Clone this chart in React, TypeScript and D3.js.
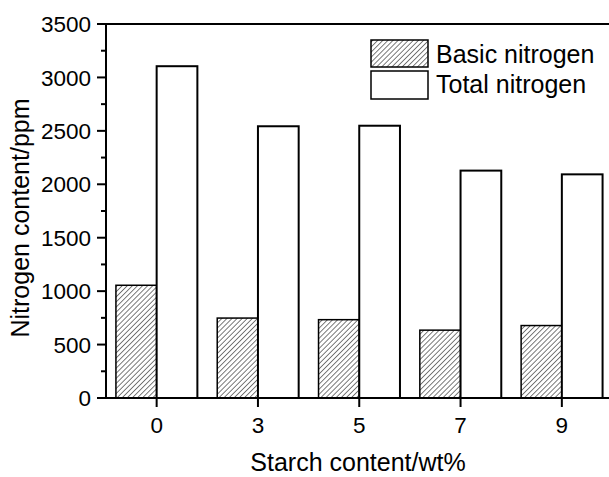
import React from "react";
import * as d3 from "d3";

const categories = ["0", "3", "5", "7", "9"];
const basicNitrogen = [1055, 748, 733, 635, 678];
const totalNitrogen = [3105, 2543, 2548, 2128, 2093];
const yTicks = [0, 500, 1000, 1500, 2000, 2500, 3000, 3500];
const yMinorTicks = [250, 750, 1250, 1750, 2250, 2750, 3250];
const seriesNames = ["Basic nitrogen", "Total nitrogen"];

const W = 609;
const H = 477;
const left = 106;
const top = 24;
const bottom = 398;
const right = 612.5;
const FONT = "'Liberation Sans', Arial, Helvetica, sans-serif";

export default function App() {
  const x = d3.scaleBand<string>().domain(categories).range([left, right]).paddingInner(0).paddingOuter(0);
  const y = d3.scaleLinear().domain([0, 3500]).range([bottom, top]);
  const step = x.step();
  const barW = step * 0.402;

  return (
    <svg
      width={W}
      height={H}
      viewBox={`0 0 ${W} ${H}`}
      style={{ position: "absolute", left: 0, top: 0, background: "#fff" }}
      fontFamily={FONT}
    >
      <defs>
        <pattern id="hatch" patternUnits="userSpaceOnUse" width="3.6" height="3.6" patternTransform="rotate(45)">
          <rect width="3.6" height="3.6" fill="#fff" />
          <line x1="0" y1="0" x2="0" y2="3.6" stroke="#222" strokeWidth="1.2" />
        </pattern>
      </defs>
      <rect x={0} y={0} width={W} height={H} fill="#fff" />

      {/* bars */}
      {categories.map((c, i) => {
        const cx = (x(c) as number) + step / 2;
        return (
          <g key={c}>
            <rect
              x={cx - barW}
              y={y(basicNitrogen[i])}
              width={barW}
              height={bottom - y(basicNitrogen[i])}
              fill="url(#hatch)"
              stroke="#000"
              strokeWidth={1.5}
            />
            <rect
              x={cx}
              y={y(totalNitrogen[i])}
              width={barW}
              height={bottom - y(totalNitrogen[i])}
              fill="#fff"
              stroke="#000"
              strokeWidth={2}
            />
          </g>
        );
      })}

      {/* frame */}
      <line x1={left} x2={W + 5} y1={top} y2={top} stroke="#000" strokeWidth={2} />
      <line x1={left} x2={left} y1={top - 1} y2={bottom + 1} stroke="#000" strokeWidth={2} />
      <line x1={left} x2={W + 5} y1={bottom} y2={bottom} stroke="#000" strokeWidth={2} />

      {/* y ticks */}
      {yTicks.map((t) => (
        <g key={t}>
          <line x1={left - 9} x2={left} y1={y(t)} y2={y(t)} stroke="#000" strokeWidth={2} />
          <text x={left - 15} y={y(t)} dy="0.36em" textAnchor="end" fontSize={22.5} fill="#000">
            {t}
          </text>
        </g>
      ))}
      {yMinorTicks.map((t) => (
        <line key={t} x1={left - 5} x2={left} y1={y(t)} y2={y(t)} stroke="#000" strokeWidth={2} />
      ))}

      {/* x ticks */}
      {categories.map((c) => {
        const cx = (x(c) as number) + step / 2;
        return (
          <g key={c}>
            <line x1={cx} x2={cx} y1={bottom} y2={bottom + 9} stroke="#000" strokeWidth={2} />
            <text x={cx} y={433} textAnchor="middle" fontSize={22.5} fill="#000">
              {c}
            </text>
          </g>
        );
      })}

      {/* axis titles */}
      <text x={358} y={471} textAnchor="middle" fontSize={25} fill="#000">
        Starch content/wt%
      </text>
      <text
        transform={`translate(29, ${(top + bottom) / 2 + 7}) rotate(-90)`}
        textAnchor="middle"
        fontSize={25}
        fill="#000"
      >
        Nitrogen content/ppm
      </text>

      {/* legend */}
      <rect x={371} y={40} width={57} height={27} fill="url(#hatch)" stroke="#000" strokeWidth={1.5} />
      <rect x={371} y={71} width={57} height={28} fill="#fff" stroke="#000" strokeWidth={1.5} />
      <text x={436} y={63} fontSize={25} fill="#000">
        {seriesNames[0]}
      </text>
      <text x={436} y={93} fontSize={25} fill="#000">
        {seriesNames[1]}
      </text>
    </svg>
  );
}
